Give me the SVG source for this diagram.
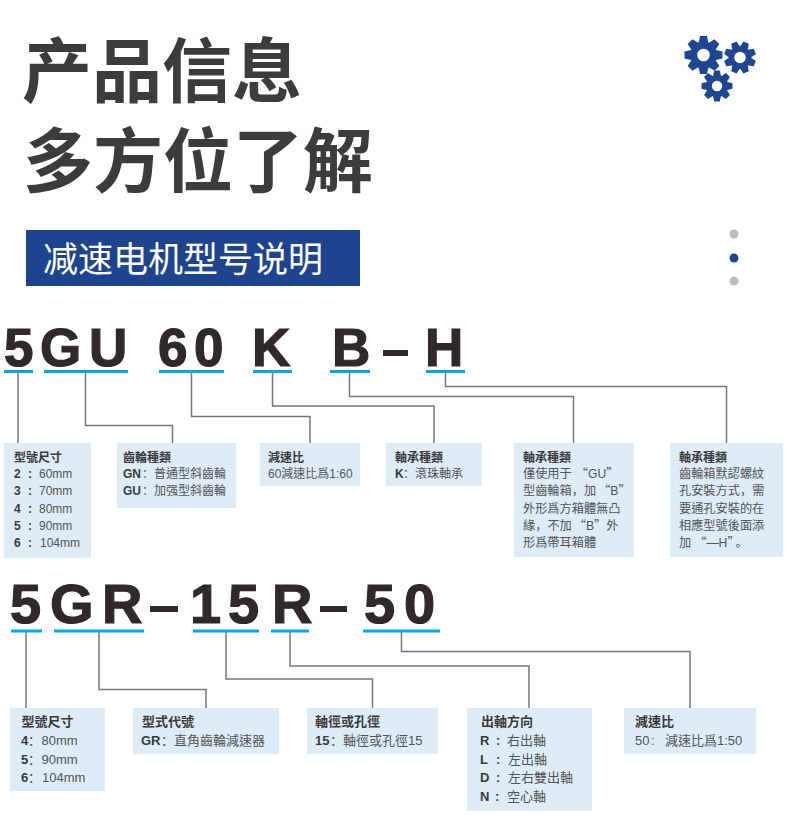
<svg xmlns="http://www.w3.org/2000/svg" xmlns:xlink="http://www.w3.org/1999/xlink" width="790" height="826" viewBox="0 0 790 826">
<style>
.title{font-family:"Noto Sans CJK SC","Noto Sans CJK TC",sans-serif;font-weight:700;font-size:70px;fill:#3c3c3c}
.banner{font-family:"Noto Sans CJK SC",sans-serif;font-weight:400;font-size:35px;fill:#fff}
.big{font-family:"Liberation Sans",Arial,sans-serif;font-weight:700;fill:#2f2a29;stroke:#2f2a29;stroke-width:1.2px}
.box{fill:#deecf7}
.line{fill:none;stroke:#777;stroke-width:1.5}
.ul{fill:#00a8e8}
text.t{font-family:"Liberation Sans","Noto Sans CJK TC",sans-serif;fill:#535355}
.s{font-size:12px}.m{font-size:13px}.p{font-size:12.2px}
.h,.k{font-weight:700;fill:#3a3a3c}
.c{font-family:"Noto Sans CJK SC",sans-serif}
.q{font-family:"Noto Sans CJK SC",sans-serif}
.gear{fill:#1f4692}
</style>
<defs>
<g id="gearShape">
<circle r="70"/>
<g id="t4">
<polygon id="tooth" points="-18,-100 18,-100 27,-60 -27,-60"/>
<use xlink:href="#tooth" href="#tooth" transform="rotate(45)"/>
<use xlink:href="#tooth" href="#tooth" transform="rotate(90)"/>
<use xlink:href="#tooth" href="#tooth" transform="rotate(135)"/>
</g>
<use xlink:href="#t4" href="#t4" transform="rotate(180)"/>
</g>
</defs>
<rect width="790" height="826" fill="#fff"/>

<g id="header">
<text class="title" x="22" y="97">产品信息</text>
<text class="title" x="23" y="187">多方位了解</text>
</g>
<g id="gears" class="gear">
<use xlink:href="#gearShape" href="#gearShape" transform="translate(703.5 55) scale(.19)"/>
<circle cx="703.5" cy="55" r="6.300" fill="#fff"/>
<use xlink:href="#gearShape" href="#gearShape" transform="translate(740 57.5) rotate(22.5) scale(.16)"/>
<circle cx="740" cy="57.5" r="5.700" fill="#fff"/>
<use xlink:href="#gearShape" href="#gearShape" transform="translate(717 86) scale(.155)"/>
<circle cx="717" cy="86" r="5.200" fill="#fff"/>
</g>
<g id="banner">
<rect x="26" y="230" width="334" height="56" fill="#1e448f"/>
<text class="banner" x="43" y="272">减速电机型号说明</text>
</g>
<g id="pager">
<circle cx="734" cy="234" r="4.500" fill="#bdbdbd"/>
<circle cx="734" cy="258" r="4.500" fill="#1e448f"/>
<circle cx="734" cy="281" r="4.500" fill="#bdbdbd"/>
</g>

<g id="code-1">
<text class="big" font-size="53" y="366" x="4 40 89 158 194 252 332 425">5GU60KBH</text>
<rect x="383" y="350" width="25" height="6" fill="#2f2a29"/>
<rect class="ul" x="4" y="370" width="29" height="3"/>
<rect class="ul" x="44" y="370" width="84" height="3"/>
<rect class="ul" x="159" y="370" width="65" height="3"/>
<rect class="ul" x="253" y="370" width="39" height="3"/>
<rect class="ul" x="330" y="370" width="40" height="3"/>
<rect class="ul" x="426" y="370" width="39" height="3"/>
</g>
<g id="code-2">
<text class="big" font-size="56" y="623" x="10 50 102 190 228 272 364 404">5GR15R50</text>
<rect x="150" y="606" width="28" height="6" fill="#2f2a29"/>
<rect x="320" y="606" width="27" height="6" fill="#2f2a29"/>
<rect class="ul" x="11" y="629.500" width="31" height="3"/>
<rect class="ul" x="54" y="629.500" width="90" height="3"/>
<rect class="ul" x="193" y="629.500" width="66" height="3"/>
<rect class="ul" x="271" y="629.500" width="38" height="3"/>
<rect class="ul" x="363" y="629.500" width="77" height="3"/>
</g>

<g id="connectors">
<path class="line" d="M18 373V444"/>
<path class="line" d="M85.500 373V425.500H172.500V444"/>
<path class="line" d="M191.500 373V416.500H310V444"/>
<path class="line" d="M272.500 373V406H434V444"/>
<path class="line" d="M349.500 373V396.500H573.500V444"/>
<path class="line" d="M445.500 373V386.500H726.500V444"/>
<path class="line" d="M26 632V708"/>
<path class="line" d="M99 632V689.500H206V708"/>
<path class="line" d="M226 632V679H372.500V708"/>
<path class="line" d="M290 632V666H529V708"/>
<path class="line" d="M401.500 632V651.500H690V708"/>
</g>

<g id="node-size-1">
<rect class="box" x="4" y="443" width="87" height="115"/>
<text class="t s" y="462"><tspan class="h" x="14">型號尺寸</tspan></text>
<text class="t s" y="478"><tspan class="k" x="14">2</tspan><tspan class="k" x="28">:</tspan><tspan x="39">60mm</tspan></text>
<text class="t s" y="495"><tspan class="k" x="14">3</tspan><tspan class="k" x="28">:</tspan><tspan x="39">70mm</tspan></text>
<text class="t s" y="513"><tspan class="k" x="14">4</tspan><tspan class="k" x="28">:</tspan><tspan x="39">80mm</tspan></text>
<text class="t s" y="530"><tspan class="k" x="14">5</tspan><tspan class="k" x="28">:</tspan><tspan x="39">90mm</tspan></text>
<text class="t s" y="547"><tspan class="k" x="14">6</tspan><tspan class="k" x="28">:</tspan><tspan x="40">104mm</tspan></text>
</g>
<g id="node-gear-type">
<rect class="box" x="117" y="443" width="119" height="65"/>
<text class="t s" y="462"><tspan class="h" x="123">齒輪種類</tspan></text>
<text class="t s" y="478"><tspan class="k" x="123">GN</tspan><tspan class="c" x="142">：</tspan><tspan x="154">普通型斜齒輪</tspan></text>
<text class="t s" y="495"><tspan class="k" x="123">GU</tspan><tspan class="c" x="142">：</tspan><tspan x="154">加强型斜齒輪</tspan></text>
</g>
<g id="node-ratio-1">
<rect class="box" x="260" y="443" width="100" height="43"/>
<text class="t s" y="462"><tspan class="h" x="268">減速比</tspan></text>
<text class="t s" x="268" y="478">60減速比爲1:60</text>
</g>
<g id="node-bearing-1">
<rect class="box" x="386" y="443" width="96" height="43"/>
<text class="t s" y="462"><tspan class="h" x="395">軸承種類</tspan></text>
<text class="t s" y="478"><tspan class="k" x="395">K</tspan><tspan class="c" x="403">：</tspan><tspan x="415">滾珠軸承</tspan></text>
</g>
<g id="node-bearing-2">
<rect class="box" x="514" y="443" width="120" height="114"/>
<text class="t s" y="462"><tspan class="h" x="523">軸承種類</tspan></text>
<text class="t p" x="523" y="478">僅使用于<tspan class="q" dx="4">“</tspan>GU<tspan class="q">”</tspan></text>
<text class="t p" x="523" y="495">型齒輪箱<tspan class="q">，</tspan>加<tspan class="q" dx="2">“</tspan>B<tspan class="q">”</tspan></text>
<text class="t p" x="523" y="513">外形爲方箱體無凸</text>
<text class="t p" x="523" y="530">緣<tspan class="q">，</tspan>不加<tspan class="q" dx="2">“</tspan>B<tspan class="q">”</tspan>外</text>
<text class="t p" x="523" y="547">形爲帶耳箱體</text>
</g>
<g id="node-bearing-3">
<rect class="box" x="670" y="443" width="113" height="114"/>
<text class="t s" y="462"><tspan class="h" x="679">軸承種類</tspan></text>
<text class="t p" x="679" y="478">齒輪箱默認螺紋</text>
<text class="t p" x="679" y="495">孔安裝方式<tspan class="q">，</tspan>需</text>
<text class="t p" x="679" y="513">要通孔安裝的在</text>
<text class="t p" x="679" y="530">相應型號後面添</text>
<text class="t p" x="679" y="547">加<tspan class="q" dx="3">“</tspan>—H<tspan class="q">”</tspan><tspan class="q" dx="2">。</tspan></text>
</g>

<g id="node-size-2">
<rect class="box" x="10" y="708" width="95" height="83"/>
<text class="t m" y="726"><tspan class="h" x="21.500">型號尺寸</tspan></text>
<text class="t m" y="745"><tspan class="k" x="21">4</tspan><tspan class="c" x="28">：</tspan><tspan x="41.500">80mm</tspan></text>
<text class="t m" y="764"><tspan class="k" x="21">5</tspan><tspan class="c" x="28">：</tspan><tspan x="41.500">90mm</tspan></text>
<text class="t m" y="782"><tspan class="k" x="21">6</tspan><tspan class="c" x="28">：</tspan><tspan x="42">104mm</tspan></text>
</g>
<g id="node-type">
<rect class="box" x="133" y="708" width="146" height="46"/>
<text class="t m" y="726"><tspan class="h" x="142">型式代號</tspan></text>
<text class="t m" y="745"><tspan class="k" x="141">GR</tspan><tspan class="c" x="161">：</tspan><tspan x="174">直角齒輪減速器</tspan></text>
</g>
<g id="node-shaft">
<rect class="box" x="307" y="708" width="131" height="46"/>
<text class="t m" y="726"><tspan class="h" x="315">軸徑或孔徑</tspan></text>
<text class="t m" y="745"><tspan class="k" x="315">15</tspan><tspan class="c" x="330">：</tspan><tspan x="343">軸徑或孔徑15</tspan></text>
</g>
<g id="node-direction">
<rect class="box" x="467" y="708" width="125" height="103"/>
<text class="t m" y="726"><tspan class="h" x="481">出軸方向</tspan></text>
<text class="t m" y="745"><tspan class="k" x="480">R</tspan><tspan class="k" x="496">:</tspan><tspan x="507">右出軸</tspan></text>
<text class="t m" y="764"><tspan class="k" x="480">L</tspan><tspan class="k" x="496">:</tspan><tspan x="508">左出軸</tspan></text>
<text class="t m" y="782"><tspan class="k" x="480">D</tspan><tspan class="k" x="496">:</tspan><tspan x="508">左右雙出軸</tspan></text>
<text class="t m" y="801"><tspan class="k" x="480">N</tspan><tspan class="k" x="495">:</tspan><tspan x="507">空心軸</tspan></text>
</g>
<g id="node-ratio-2">
<rect class="box" x="624" y="708" width="132" height="46"/>
<text class="t m" y="726"><tspan class="h" x="635">減速比</tspan></text>
<text class="t m" y="745"><tspan x="635">50</tspan><tspan x="651">:</tspan><tspan x="665">減速比爲1:50</tspan></text>
</g>
</svg>
